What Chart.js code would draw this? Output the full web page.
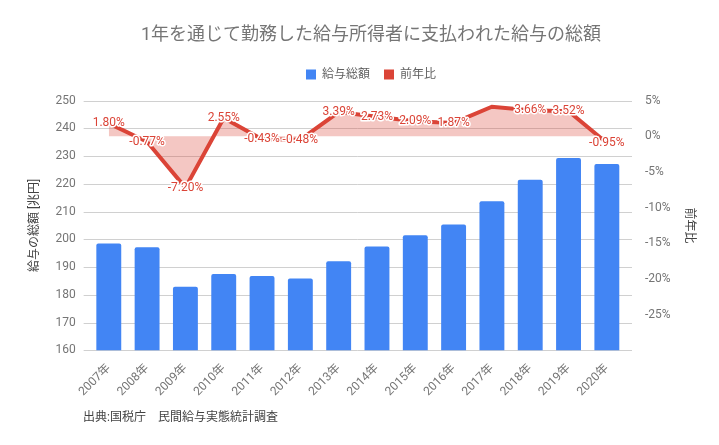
<!DOCTYPE html>
<html lang="ja">
<head>
<meta charset="utf-8">
<script src="https://cdn.jsdelivr.net/npm/chart.js@4.4.1/dist/chart.umd.min.js"></script>
<style>
  html, body { margin: 0; padding: 0; background: #fff; }
  #wrap { position: relative; width: 719px; height: 445px; }
  #source {
    position: absolute; left: 83px; top: 407px;
    font: 12px Roboto, "Noto Sans CJK JP", sans-serif; color: #424242;
  }
</style>
</head>
<body>
<div id="wrap">
  <canvas id="salaryChart" width="719" height="445"></canvas>
  <div id="source">出典:国税庁　民間給与実態統計調査</div>
</div>
<script>
// --- データ ---
const years = ['2007年', '2008年', '2009年', '2010年', '2011年', '2012年', '2013年',
               '2014年', '2015年', '2016年', '2017年', '2018年', '2019年', '2020年'];
const totalSalary = [198.5, 197.1, 182.9, 187.5, 186.8, 185.9, 192.1,
                     197.4, 201.5, 205.3, 213.7, 221.5, 229.3, 227.1]; // 兆円
const yoyRate = [1.80, -0.77, -7.20, 2.55, -0.43, -0.48, 3.39,
                 2.73, 2.09, 1.87, 4.14, 3.66, 3.52, -0.95]; // %
const hiddenLabels = [10]; // 2017年はラベル非表示
const leftTicks = { min: 160, max: 250, step: 10 };
const rightTicks = { min: -30, max: 5, step: 5 };

const FONT = 'Roboto, "Noto Sans CJK JP", sans-serif';
const BLUE = '#4285f4';
const RED = '#db4437';
const GRID = '#d0d0d0';

// 横グリッド線（左軸の目盛に合わせ、プロット領域より少し広く描く）
const gridPlugin = {
    id: 'wideGrid',
    beforeDatasetsDraw(chart) {
        const { ctx, chartArea, scales } = chart;
        ctx.save();
        ctx.strokeStyle = GRID;
        ctx.lineWidth = 1;
        scales.y.ticks.forEach(t => {
            const y = Math.round(scales.y.getPixelForValue(t.value)) + 0.5;
            ctx.beginPath();
            ctx.moveTo(chartArea.left - 6, y);
            ctx.lineTo(chartArea.right + 6, y);
            ctx.stroke();
        });
        ctx.restore();
    }
};

// 凡例の下に余白を足す
const legendMargin = {
    id: 'legendMargin',
    beforeInit(chart) {
        const fit = chart.legend.fit;
        chart.legend.fit = function () {
            fit.bind(chart.legend)();
            this.height += 10;
        };
    }
};

// 前年比のデータラベル
const labelPlugin = {
    id: 'yoyLabels',
    afterDatasetsDraw(chart) {
        const meta = chart.getDatasetMeta(1);
        const ctx = chart.ctx;
        ctx.save();
        ctx.font = '12px ' + FONT;
        ctx.textAlign = 'center';
        ctx.textBaseline = 'middle';
        ctx.lineJoin = 'round';
        meta.data.forEach((pt, i) => {
            if (hiddenLabels.includes(i)) return;
            const text = yoyRate[i].toFixed(2) + '%';
            ctx.strokeStyle = '#fff';
            ctx.lineWidth = 3;
            ctx.strokeText(text, pt.x, pt.y);
            ctx.fillStyle = RED;
            ctx.fillText(text, pt.x, pt.y);
        });
        ctx.restore();
    }
};

document.addEventListener('DOMContentLoaded', () => {
    const ctx = document.getElementById('salaryChart');
    new Chart(ctx, {
        data: {
            labels: years,
            datasets: [
                {
                    type: 'bar',
                    label: '給与総額',
                    data: totalSalary,
                    backgroundColor: BLUE,
                    borderRadius: { topLeft: 2, topRight: 2 },
                    borderSkipped: 'bottom',
                    barPercentage: 0.65,
                    categoryPercentage: 1,
                    yAxisID: 'y',
                    order: 2
                },
                {
                    type: 'line',
                    label: '前年比',
                    data: yoyRate,
                    borderColor: RED,
                    backgroundColor: 'rgba(219, 68, 55, 0.3)',
                    borderWidth: 4,
                    pointRadius: 0,
                    tension: 0,
                    fill: 'origin',
                    yAxisID: 'y1',
                    order: 1
                }
            ]
        },
        options: {
            responsive: false,
            animation: false,
            layout: { padding: { left: 28, right: 5, top: 0, bottom: 43 } },
            scales: {
                x: {
                    offset: true,
                    grid: { display: false },
                    border: { display: false },
                    ticks: {
                        autoSkip: false,
                        minRotation: 45, maxRotation: 45,
                        color: '#757575',
                        font: { family: FONT, size: 12 }
                    }
                },
                y: {
                    position: 'left',
                    min: leftTicks.min, max: leftTicks.max,
                    grid: { display: false },
                    border: { display: false },
                    ticks: {
                        stepSize: leftTicks.step,
                        padding: 6,
                        color: '#757575',
                        font: { family: FONT, size: 12 }
                    },
                    title: {
                        display: true,
                        text: '給与の総額 [兆円]',
                        color: '#424242',
                        font: { family: FONT, size: 12 },
                        padding: { top: 0, bottom: 7 }
                    }
                },
                y1: {
                    position: 'right',
                    min: rightTicks.min, max: rightTicks.max,
                    grid: { display: false },
                    border: { display: false },
                    ticks: {
                        stepSize: rightTicks.step,
                        padding: 11,
                        color: '#757575',
                        font: { family: FONT, size: 12 },
                        callback: v => (v === rightTicks.min ? '' : v + '%')
                    },
                    title: {
                        display: true,
                        text: '前年比',
                        color: '#424242',
                        font: { family: FONT, size: 12 },
                        padding: { top: 18, bottom: 0 }
                    }
                }
            },
            plugins: {
                title: {
                    display: true,
                    text: '1年を通じて勤務した給与所得者に支払われた給与の総額',
                    color: '#757575',
                    font: { family: FONT, size: 18, weight: 'normal' },
                    padding: { top: 25, bottom: 8 }
                },
                legend: {
                    display: true,
                    position: 'top',
                    labels: {
                        boxWidth: 10,
                        boxHeight: 10,
                        padding: 14,
                        color: '#616161',
                        font: { family: FONT, size: 12 },
                        sort: (a, b) => a.datasetIndex - b.datasetIndex,
                        generateLabels: chart => Chart.defaults.plugins.legend.labels
                            .generateLabels(chart)
                            .map(item => {
                                const ds = chart.data.datasets[item.datasetIndex];
                                item.fillStyle = ds.type === 'line' ? ds.borderColor : ds.backgroundColor;
                                item.lineWidth = 0;
                                return item;
                            })
                    }
                },
                tooltip: { enabled: false }
            }
        },
        plugins: [gridPlugin, legendMargin, labelPlugin]
    });
});
</script>
</body>
</html>
